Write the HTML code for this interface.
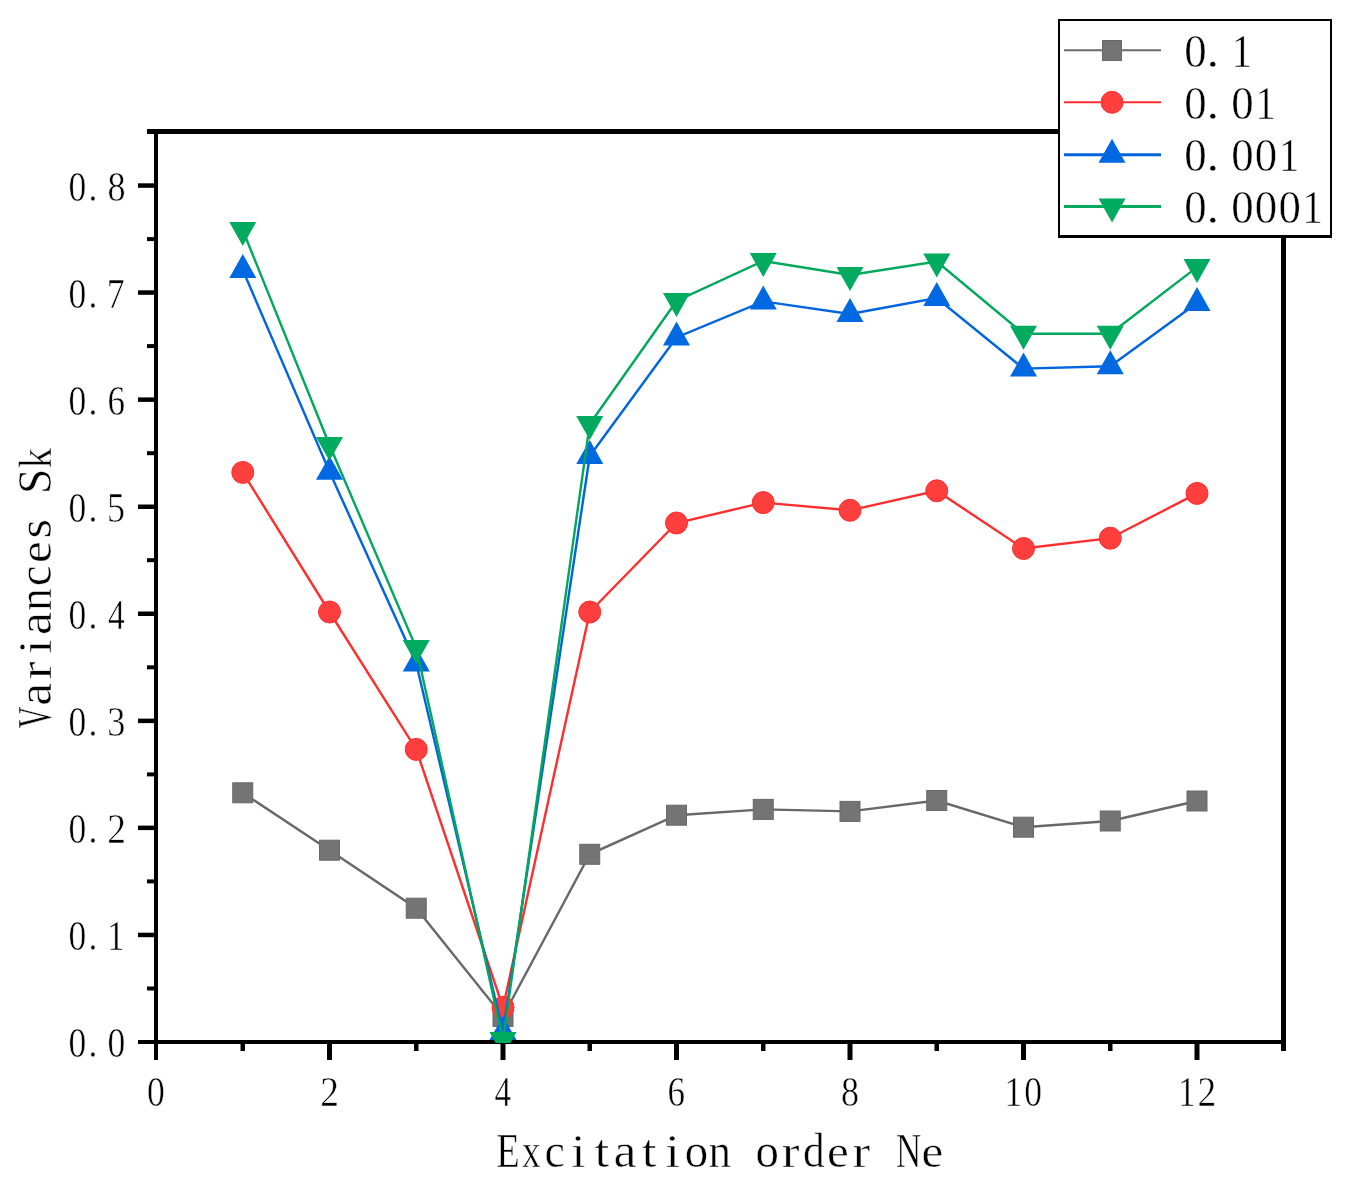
<!DOCTYPE html><html><head><meta charset="utf-8"><style>html,body{margin:0;padding:0;background:#fff;}html,body{overflow:hidden;width:1348px;height:1190px;} svg{display:block;will-change:transform;}</style></head><body>
<svg width="1348" height="1190" viewBox="0 0 1348 1190" font-family="&quot;Liberation Serif&quot;, serif">
<rect width="1348" height="1190" fill="#fff"/>
<defs><clipPath id="pc"><rect x="154" y="131" width="1132" height="912"/></clipPath></defs>
<rect x="147" y="129" width="1139" height="5" fill="#000"/>
<rect x="154" y="129" width="4" height="931" fill="#000"/>
<rect x="1281" y="129" width="5" height="922" fill="#000"/>
<rect x="138" y="1040" width="1148" height="4" fill="#000"/>
<rect x="138" y="932.7" width="16" height="4.5" fill="#000"/>
<rect x="138" y="825.6" width="16" height="4.5" fill="#000"/>
<rect x="138" y="718.6" width="16" height="4.5" fill="#000"/>
<rect x="138" y="611.5" width="16" height="4.5" fill="#000"/>
<rect x="138" y="504.5" width="16" height="4.5" fill="#000"/>
<rect x="138" y="397.4" width="16" height="4.5" fill="#000"/>
<rect x="138" y="290.3" width="16" height="4.5" fill="#000"/>
<rect x="138" y="183.3" width="16" height="4.5" fill="#000"/>
<rect x="147" y="986.5" width="7" height="4.0" fill="#000"/>
<rect x="147" y="879.4" width="7" height="4.0" fill="#000"/>
<rect x="147" y="772.4" width="7" height="4.0" fill="#000"/>
<rect x="147" y="665.3" width="7" height="4.0" fill="#000"/>
<rect x="147" y="558.2" width="7" height="4.0" fill="#000"/>
<rect x="147" y="451.2" width="7" height="4.0" fill="#000"/>
<rect x="147" y="344.1" width="7" height="4.0" fill="#000"/>
<rect x="147" y="237.1" width="7" height="4.0" fill="#000"/>
<rect x="147" y="130.0" width="7" height="4.0" fill="#000"/>
<rect x="327.0" y="1044" width="5.0" height="16" fill="#000"/>
<rect x="500.5" y="1044" width="5.0" height="16" fill="#000"/>
<rect x="674.0" y="1044" width="5.0" height="16" fill="#000"/>
<rect x="847.5" y="1044" width="5.0" height="16" fill="#000"/>
<rect x="1021.0" y="1044" width="5.0" height="16" fill="#000"/>
<rect x="1194.5" y="1044" width="5.0" height="16" fill="#000"/>
<rect x="240.5" y="1044" width="4.5" height="7" fill="#000"/>
<rect x="414.0" y="1044" width="4.5" height="7" fill="#000"/>
<rect x="587.5" y="1044" width="4.5" height="7" fill="#000"/>
<rect x="761.0" y="1044" width="4.5" height="7" fill="#000"/>
<rect x="934.5" y="1044" width="4.5" height="7" fill="#000"/>
<rect x="1108.0" y="1044" width="4.5" height="7" fill="#000"/>
<g clip-path="url(#pc)">
<polyline points="242.75,792.80 329.50,850.20 416.25,908.20 503.00,1016.40 589.75,854.30 676.50,815.20 763.25,809.40 850.00,811.40 936.75,800.50 1023.50,827.20 1110.25,821.00 1197.00,801.00" fill="none" stroke="#686868" stroke-width="2.4" stroke-linejoin="miter"/>
<rect x="232.75" y="782.80" width="20" height="20" fill="#747474" stroke="#686868" stroke-width="1"/>
<rect x="319.50" y="840.20" width="20" height="20" fill="#747474" stroke="#686868" stroke-width="1"/>
<rect x="406.25" y="898.20" width="20" height="20" fill="#747474" stroke="#686868" stroke-width="1"/>
<rect x="493.00" y="1006.40" width="20" height="20" fill="#747474" stroke="#686868" stroke-width="1"/>
<rect x="579.75" y="844.30" width="20" height="20" fill="#747474" stroke="#686868" stroke-width="1"/>
<rect x="666.50" y="805.20" width="20" height="20" fill="#747474" stroke="#686868" stroke-width="1"/>
<rect x="753.25" y="799.40" width="20" height="20" fill="#747474" stroke="#686868" stroke-width="1"/>
<rect x="840.00" y="801.40" width="20" height="20" fill="#747474" stroke="#686868" stroke-width="1"/>
<rect x="926.75" y="790.50" width="20" height="20" fill="#747474" stroke="#686868" stroke-width="1"/>
<rect x="1013.50" y="817.20" width="20" height="20" fill="#747474" stroke="#686868" stroke-width="1"/>
<rect x="1100.25" y="811.00" width="20" height="20" fill="#747474" stroke="#686868" stroke-width="1"/>
<rect x="1187.00" y="791.00" width="20" height="20" fill="#747474" stroke="#686868" stroke-width="1"/>
<polyline points="242.75,472.40 329.50,612.00 416.25,749.40 503.00,1007.40 589.75,612.00 676.50,523.00 763.25,502.60 850.00,510.30 936.75,490.80 1023.50,548.50 1110.25,538.20 1197.00,493.40" fill="none" stroke="#FF2E2E" stroke-width="2.4" stroke-linejoin="miter"/>
<circle cx="242.75" cy="472.40" r="11.0" fill="#FF3E3E" stroke="#FF2E2E" stroke-width="1"/>
<circle cx="329.50" cy="612.00" r="11.0" fill="#FF3E3E" stroke="#FF2E2E" stroke-width="1"/>
<circle cx="416.25" cy="749.40" r="11.0" fill="#FF3E3E" stroke="#FF2E2E" stroke-width="1"/>
<circle cx="503.00" cy="1007.40" r="11.0" fill="#FF3E3E" stroke="#FF2E2E" stroke-width="1"/>
<circle cx="589.75" cy="612.00" r="11.0" fill="#FF3E3E" stroke="#FF2E2E" stroke-width="1"/>
<circle cx="676.50" cy="523.00" r="11.0" fill="#FF3E3E" stroke="#FF2E2E" stroke-width="1"/>
<circle cx="763.25" cy="502.60" r="11.0" fill="#FF3E3E" stroke="#FF2E2E" stroke-width="1"/>
<circle cx="850.00" cy="510.30" r="11.0" fill="#FF3E3E" stroke="#FF2E2E" stroke-width="1"/>
<circle cx="936.75" cy="490.80" r="11.0" fill="#FF3E3E" stroke="#FF2E2E" stroke-width="1"/>
<circle cx="1023.50" cy="548.50" r="11.0" fill="#FF3E3E" stroke="#FF2E2E" stroke-width="1"/>
<circle cx="1110.25" cy="538.20" r="11.0" fill="#FF3E3E" stroke="#FF2E2E" stroke-width="1"/>
<circle cx="1197.00" cy="493.40" r="11.0" fill="#FF3E3E" stroke="#FF2E2E" stroke-width="1"/>
<polyline points="242.75,270.00 329.50,471.80 416.25,663.50 503.00,1032.00 589.75,456.00 676.50,337.50 763.25,301.40 850.00,314.00 936.75,298.10 1023.50,368.60 1110.25,366.20 1197.00,303.00" fill="none" stroke="#0064DE" stroke-width="2.4" stroke-linejoin="miter"/>
<polygon points="242.75,254.00 256.25,278.00 229.25,278.00" fill="#0068E0"/>
<polygon points="329.50,455.80 343.00,479.80 316.00,479.80" fill="#0068E0"/>
<polygon points="416.25,647.50 429.75,671.50 402.75,671.50" fill="#0068E0"/>
<polygon points="503.00,1016.00 516.50,1040.00 489.50,1040.00" fill="#0068E0"/>
<polygon points="589.75,440.00 603.25,464.00 576.25,464.00" fill="#0068E0"/>
<polygon points="676.50,321.50 690.00,345.50 663.00,345.50" fill="#0068E0"/>
<polygon points="763.25,285.40 776.75,309.40 749.75,309.40" fill="#0068E0"/>
<polygon points="850.00,298.00 863.50,322.00 836.50,322.00" fill="#0068E0"/>
<polygon points="936.75,282.10 950.25,306.10 923.25,306.10" fill="#0068E0"/>
<polygon points="1023.50,352.60 1037.00,376.60 1010.00,376.60" fill="#0068E0"/>
<polygon points="1110.25,350.20 1123.75,374.20 1096.75,374.20" fill="#0068E0"/>
<polygon points="1197.00,287.00 1210.50,311.00 1183.50,311.00" fill="#0068E0"/>
<polyline points="242.75,230.00 329.50,445.00 416.25,648.00 503.00,1040.00 589.75,424.00 676.50,301.00 763.25,261.00 850.00,275.00 936.75,261.50 1023.50,333.70 1110.25,333.70 1197.00,267.10" fill="none" stroke="#00A85B" stroke-width="2.4" stroke-linejoin="miter"/>
<polygon points="229.25,222.00 256.25,222.00 242.75,246.00" fill="#00AA5F"/>
<polygon points="316.00,437.00 343.00,437.00 329.50,461.00" fill="#00AA5F"/>
<polygon points="402.75,640.00 429.75,640.00 416.25,664.00" fill="#00AA5F"/>
<polygon points="489.50,1032.00 516.50,1032.00 503.00,1056.00" fill="#00AA5F"/>
<polygon points="576.25,416.00 603.25,416.00 589.75,440.00" fill="#00AA5F"/>
<polygon points="663.00,293.00 690.00,293.00 676.50,317.00" fill="#00AA5F"/>
<polygon points="749.75,253.00 776.75,253.00 763.25,277.00" fill="#00AA5F"/>
<polygon points="836.50,267.00 863.50,267.00 850.00,291.00" fill="#00AA5F"/>
<polygon points="923.25,253.50 950.25,253.50 936.75,277.50" fill="#00AA5F"/>
<polygon points="1010.00,325.70 1037.00,325.70 1023.50,349.70" fill="#00AA5F"/>
<polygon points="1096.75,325.70 1123.75,325.70 1110.25,349.70" fill="#00AA5F"/>
<polygon points="1183.50,259.10 1210.50,259.10 1197.00,283.10" fill="#00AA5F"/>
</g>
<text transform="translate(77.40,1057.10) scale(0.858,1)" x="-10.38" font-size="41.5" fill="#000" stroke="#fff" stroke-width="0.5" >0</text><text transform="translate(93.00,1057.10) scale(0.856,1)" x="-5.19" font-size="41.5" fill="#000" stroke="#fff" stroke-width="0.5" >.</text><text transform="translate(116.40,1057.10) scale(0.858,1)" x="-10.38" font-size="41.5" fill="#000" stroke="#fff" stroke-width="0.5" >0</text>
<text transform="translate(77.40,950.04) scale(0.858,1)" x="-10.38" font-size="41.5" fill="#000" stroke="#fff" stroke-width="0.5" >0</text><text transform="translate(93.00,950.04) scale(0.856,1)" x="-5.19" font-size="41.5" fill="#000" stroke="#fff" stroke-width="0.5" >.</text><text transform="translate(116.40,950.04) scale(0.856,1)" x="-10.95" font-size="41.5" fill="#000" stroke="#fff" stroke-width="0.5" >1</text>
<text transform="translate(77.40,842.98) scale(0.858,1)" x="-10.38" font-size="41.5" fill="#000" stroke="#fff" stroke-width="0.5" >0</text><text transform="translate(93.00,842.98) scale(0.856,1)" x="-5.19" font-size="41.5" fill="#000" stroke="#fff" stroke-width="0.5" >.</text><text transform="translate(116.40,842.98) scale(0.902,1)" x="-10.14" font-size="41.5" fill="#000" stroke="#fff" stroke-width="0.5" >2</text>
<text transform="translate(77.40,735.92) scale(0.858,1)" x="-10.38" font-size="41.5" fill="#000" stroke="#fff" stroke-width="0.5" >0</text><text transform="translate(93.00,735.92) scale(0.856,1)" x="-5.19" font-size="41.5" fill="#000" stroke="#fff" stroke-width="0.5" >.</text><text transform="translate(116.40,735.92) scale(0.875,1)" x="-10.56" font-size="41.5" fill="#000" stroke="#fff" stroke-width="0.5" >3</text>
<text transform="translate(77.40,628.86) scale(0.858,1)" x="-10.38" font-size="41.5" fill="#000" stroke="#fff" stroke-width="0.5" >0</text><text transform="translate(93.00,628.86) scale(0.856,1)" x="-5.19" font-size="41.5" fill="#000" stroke="#fff" stroke-width="0.5" >.</text><text transform="translate(116.40,628.86) scale(0.803,1)" x="-10.46" font-size="41.5" fill="#000" stroke="#fff" stroke-width="0.5" >4</text>
<text transform="translate(77.40,521.80) scale(0.858,1)" x="-10.38" font-size="41.5" fill="#000" stroke="#fff" stroke-width="0.5" >0</text><text transform="translate(93.00,521.80) scale(0.856,1)" x="-5.19" font-size="41.5" fill="#000" stroke="#fff" stroke-width="0.5" >.</text><text transform="translate(116.40,521.80) scale(0.867,1)" x="-10.77" font-size="41.5" fill="#000" stroke="#fff" stroke-width="0.5" >5</text>
<text transform="translate(77.40,414.74) scale(0.858,1)" x="-10.38" font-size="41.5" fill="#000" stroke="#fff" stroke-width="0.5" >0</text><text transform="translate(93.00,414.74) scale(0.856,1)" x="-5.19" font-size="41.5" fill="#000" stroke="#fff" stroke-width="0.5" >.</text><text transform="translate(116.40,414.74) scale(0.846,1)" x="-10.65" font-size="41.5" fill="#000" stroke="#fff" stroke-width="0.5" >6</text>
<text transform="translate(77.40,307.68) scale(0.858,1)" x="-10.38" font-size="41.5" fill="#000" stroke="#fff" stroke-width="0.5" >0</text><text transform="translate(93.00,307.68) scale(0.856,1)" x="-5.19" font-size="41.5" fill="#000" stroke="#fff" stroke-width="0.5" >.</text><text transform="translate(116.40,307.68) scale(0.862,1)" x="-11.15" font-size="41.5" fill="#000" stroke="#fff" stroke-width="0.5" >7</text>
<text transform="translate(77.40,200.62) scale(0.858,1)" x="-10.38" font-size="41.5" fill="#000" stroke="#fff" stroke-width="0.5" >0</text><text transform="translate(93.00,200.62) scale(0.856,1)" x="-5.19" font-size="41.5" fill="#000" stroke="#fff" stroke-width="0.5" >.</text><text transform="translate(116.40,200.62) scale(0.870,1)" x="-10.38" font-size="41.5" fill="#000" stroke="#fff" stroke-width="0.5" >8</text>
<text transform="translate(156.00,1105.60) scale(0.858,1)" x="-10.38" font-size="41.5" fill="#000" stroke="#fff" stroke-width="0.5" >0</text>
<text transform="translate(329.50,1105.60) scale(0.902,1)" x="-10.14" font-size="41.5" fill="#000" stroke="#fff" stroke-width="0.5" >2</text>
<text transform="translate(503.00,1105.60) scale(0.803,1)" x="-10.46" font-size="41.5" fill="#000" stroke="#fff" stroke-width="0.5" >4</text>
<text transform="translate(676.50,1105.60) scale(0.846,1)" x="-10.65" font-size="41.5" fill="#000" stroke="#fff" stroke-width="0.5" >6</text>
<text transform="translate(850.00,1105.60) scale(0.870,1)" x="-10.38" font-size="41.5" fill="#000" stroke="#fff" stroke-width="0.5" >8</text>
<text transform="translate(1013.75,1105.60) scale(0.856,1)" x="-10.95" font-size="41.5" fill="#000" stroke="#fff" stroke-width="0.5" >1</text><text transform="translate(1033.25,1105.60) scale(0.858,1)" x="-10.38" font-size="41.5" fill="#000" stroke="#fff" stroke-width="0.5" >0</text>
<text transform="translate(1187.25,1105.60) scale(0.856,1)" x="-10.95" font-size="41.5" fill="#000" stroke="#fff" stroke-width="0.5" >1</text><text transform="translate(1206.75,1105.60) scale(0.902,1)" x="-10.14" font-size="41.5" fill="#000" stroke="#fff" stroke-width="0.5" >2</text>
<text transform="translate(507.60,1167.20) scale(0.811,1)" x="-14.01" font-size="47.5" fill="#000" stroke="#fff" stroke-width="0.5" >E</text><text transform="translate(531.20,1167.20) scale(0.782,1)" x="-11.79" font-size="47.5" fill="#000" stroke="#fff" stroke-width="0.5" >x</text><text transform="translate(554.80,1167.20) scale(0.966,1)" x="-10.72" font-size="47.5" fill="#000" stroke="#fff" stroke-width="0.5" >c</text><text transform="translate(578.40,1167.20) scale(1.120,1)" x="-6.64" font-size="47.5" fill="#000" stroke="#fff" stroke-width="0.5" >i</text><text transform="translate(602.00,1167.20) scale(1.120,1)" x="-6.69" font-size="47.5" fill="#000" stroke="#fff" stroke-width="0.5" >t</text><text transform="translate(625.60,1167.20) scale(1.093,1)" x="-11.05" font-size="47.5" fill="#000" stroke="#fff" stroke-width="0.5" >a</text><text transform="translate(649.20,1167.20) scale(1.120,1)" x="-6.69" font-size="47.5" fill="#000" stroke="#fff" stroke-width="0.5" >t</text><text transform="translate(672.80,1167.20) scale(1.120,1)" x="-6.64" font-size="47.5" fill="#000" stroke="#fff" stroke-width="0.5" >i</text><text transform="translate(696.40,1167.20) scale(0.984,1)" x="-11.88" font-size="47.5" fill="#000" stroke="#fff" stroke-width="0.5" >o</text><text transform="translate(720.00,1167.20) scale(0.948,1)" x="-12.06" font-size="47.5" fill="#000" stroke="#fff" stroke-width="0.5" >n</text><text transform="translate(767.20,1167.20) scale(0.984,1)" x="-11.88" font-size="47.5" fill="#000" stroke="#fff" stroke-width="0.5" >o</text><text transform="translate(790.80,1167.20) scale(1.120,1)" x="-8.18" font-size="47.5" fill="#000" stroke="#fff" stroke-width="0.5" >r</text><text transform="translate(814.40,1167.20) scale(0.914,1)" x="-12.44" font-size="47.5" fill="#000" stroke="#fff" stroke-width="0.5" >d</text><text transform="translate(838.00,1167.20) scale(1.035,1)" x="-10.65" font-size="47.5" fill="#000" stroke="#fff" stroke-width="0.5" >e</text><text transform="translate(861.60,1167.20) scale(1.120,1)" x="-8.18" font-size="47.5" fill="#000" stroke="#fff" stroke-width="0.5" >r</text><text transform="translate(908.80,1167.20) scale(0.735,1)" x="-17.29" font-size="47.5" fill="#000" stroke="#fff" stroke-width="0.5" >N</text><text transform="translate(932.40,1167.20) scale(1.035,1)" x="-10.65" font-size="47.5" fill="#000" stroke="#fff" stroke-width="0.5" >e</text>
<g transform="translate(51,587.5) rotate(-90)">
<text transform="translate(-129.80,0.00) scale(0.632,1)" x="-17.15" font-size="47.5" fill="#000" stroke="#fff" stroke-width="0.5" >V</text><text transform="translate(-106.20,0.00) scale(1.093,1)" x="-11.05" font-size="47.5" fill="#000" stroke="#fff" stroke-width="0.5" >a</text><text transform="translate(-82.60,0.00) scale(1.120,1)" x="-8.18" font-size="47.5" fill="#000" stroke="#fff" stroke-width="0.5" >r</text><text transform="translate(-59.00,0.00) scale(1.120,1)" x="-6.64" font-size="47.5" fill="#000" stroke="#fff" stroke-width="0.5" >i</text><text transform="translate(-35.40,0.00) scale(1.093,1)" x="-11.05" font-size="47.5" fill="#000" stroke="#fff" stroke-width="0.5" >a</text><text transform="translate(-11.80,0.00) scale(0.948,1)" x="-12.06" font-size="47.5" fill="#000" stroke="#fff" stroke-width="0.5" >n</text><text transform="translate(11.80,0.00) scale(0.966,1)" x="-10.72" font-size="47.5" fill="#000" stroke="#fff" stroke-width="0.5" >c</text><text transform="translate(35.40,0.00) scale(1.035,1)" x="-10.65" font-size="47.5" fill="#000" stroke="#fff" stroke-width="0.5" >e</text><text transform="translate(59.00,0.00) scale(1.059,1)" x="-9.36" font-size="47.5" fill="#000" stroke="#fff" stroke-width="0.5" >s</text><text transform="translate(106.20,0.00) scale(0.956,1)" x="-13.32" font-size="47.5" fill="#000" stroke="#fff" stroke-width="0.5" >S</text><text transform="translate(129.80,0.00) scale(0.854,1)" x="-12.33" font-size="47.5" fill="#000" stroke="#fff" stroke-width="0.5" >k</text>
</g>
<rect x="1059" y="20" width="272" height="216.5" fill="#fff" stroke="#000" stroke-width="2"/>
<rect x="1058" y="235" width="274" height="3" fill="#000"/>
<line x1="1064" y1="50.2" x2="1161" y2="50.2" stroke="#686868" stroke-width="2"/>
<rect x="1102.5" y="40.50" width="19" height="20" fill="#747474" stroke="#686868" stroke-width="1"/>
<text transform="translate(1195.40,67.00) scale(0.954,1)" x="-11.75" font-size="47" fill="#000" stroke="#fff" stroke-width="0.5" >0</text><text transform="translate(1212.95,67.00) scale(1.080,1)" x="-5.88" font-size="47" fill="#000" stroke="#fff" stroke-width="0.5" >.</text><text transform="translate(1242.50,67.00) scale(0.858,1)" x="-12.40" font-size="47" fill="#000" stroke="#fff" stroke-width="0.5" >1</text>
<line x1="1064" y1="102.3" x2="1161" y2="102.3" stroke="#FF2E2E" stroke-width="2"/>
<circle cx="1112.00" cy="102.30" r="11.0" fill="#FF3E3E" stroke="#FF2E2E" stroke-width="1"/>
<text transform="translate(1195.40,119.00) scale(0.954,1)" x="-11.75" font-size="47" fill="#000" stroke="#fff" stroke-width="0.5" >0</text><text transform="translate(1212.95,119.00) scale(1.080,1)" x="-5.88" font-size="47" fill="#000" stroke="#fff" stroke-width="0.5" >.</text><text transform="translate(1242.50,119.00) scale(0.954,1)" x="-11.75" font-size="47" fill="#000" stroke="#fff" stroke-width="0.5" >0</text><text transform="translate(1266.05,119.00) scale(0.858,1)" x="-12.40" font-size="47" fill="#000" stroke="#fff" stroke-width="0.5" >1</text>
<line x1="1064" y1="154.8" x2="1161" y2="154.8" stroke="#0064DE" stroke-width="3"/>
<polygon points="1112.00,138.80 1125.50,162.80 1098.50,162.80" fill="#0068E0"/>
<text transform="translate(1195.40,171.00) scale(0.954,1)" x="-11.75" font-size="47" fill="#000" stroke="#fff" stroke-width="0.5" >0</text><text transform="translate(1212.95,171.00) scale(1.080,1)" x="-5.88" font-size="47" fill="#000" stroke="#fff" stroke-width="0.5" >.</text><text transform="translate(1242.50,171.00) scale(0.954,1)" x="-11.75" font-size="47" fill="#000" stroke="#fff" stroke-width="0.5" >0</text><text transform="translate(1266.05,171.00) scale(0.954,1)" x="-11.75" font-size="47" fill="#000" stroke="#fff" stroke-width="0.5" >0</text><text transform="translate(1289.60,171.00) scale(0.858,1)" x="-12.40" font-size="47" fill="#000" stroke="#fff" stroke-width="0.5" >1</text>
<line x1="1064" y1="206.5" x2="1161" y2="206.5" stroke="#00A85B" stroke-width="3"/>
<polygon points="1098.50,198.50 1125.50,198.50 1112.00,222.50" fill="#00AA5F"/>
<text transform="translate(1195.40,223.00) scale(0.954,1)" x="-11.75" font-size="47" fill="#000" stroke="#fff" stroke-width="0.5" >0</text><text transform="translate(1212.95,223.00) scale(1.080,1)" x="-5.88" font-size="47" fill="#000" stroke="#fff" stroke-width="0.5" >.</text><text transform="translate(1242.50,223.00) scale(0.954,1)" x="-11.75" font-size="47" fill="#000" stroke="#fff" stroke-width="0.5" >0</text><text transform="translate(1266.05,223.00) scale(0.954,1)" x="-11.75" font-size="47" fill="#000" stroke="#fff" stroke-width="0.5" >0</text><text transform="translate(1289.60,223.00) scale(0.954,1)" x="-11.75" font-size="47" fill="#000" stroke="#fff" stroke-width="0.5" >0</text><text transform="translate(1313.15,223.00) scale(0.858,1)" x="-12.40" font-size="47" fill="#000" stroke="#fff" stroke-width="0.5" >1</text>
</svg></body></html>
